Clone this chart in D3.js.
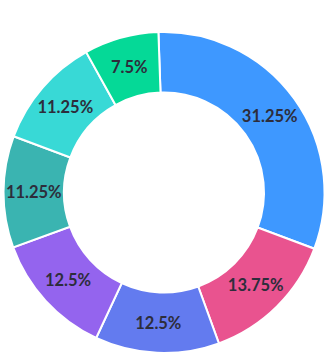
<!DOCTYPE html>
<html>
<head>
<meta charset="utf-8">
<script src="https://cdn.jsdelivr.net/npm/d3@7"></script>
<style>
  html, body { margin: 0; padding: 0; background: #ffffff; }
  svg { display: block; }
</style>
</head>
<body>
<svg id="chart" width="330" height="355"></svg>
<script>
// Share of each segment, in percent, clockwise from the top
const segments = ["A", "B", "C", "D", "E", "F", "G"];
const shares = [31.25, 13.75, 12.5, 12.5, 11.25, 11.25, 7.5];
const labels = ["31.25%", "13.75%", "12.5%", "12.5%", "11.25%", "11.25%", "7.5%"];
const colors = ["#3e98ff", "#e9538f", "#637bef", "#9464ee", "#3ab4b1", "#38d9d6", "#05d997"];

const svg = d3.select("#chart");
const cx = 164, cy = 192.5;
const outerR = 160.5, innerR = 100;

const g = svg.append("g").attr("transform", `translate(${cx},${cy})`);

const pie = d3.pie()
  .value(d => d.value)
  .sort(null)
  .startAngle(-2 * Math.PI / 180)
  .endAngle(2 * Math.PI - 2 * Math.PI / 180);

const data = segments.map((s, i) => ({ key: s, value: shares[i], label: labels[i], color: colors[i] }));
const arcs = pie(data);

const arc = d3.arc().innerRadius(innerR).outerRadius(outerR);
const labelArc = d3.arc().innerRadius(innerR + 1).outerRadius(outerR - 1);

g.selectAll("path.slice")
  .data(arcs)
  .join("path")
  .attr("class", "slice")
  .attr("d", arc)
  .attr("fill", d => d.data.color)
  .attr("stroke", "#ffffff")
  .attr("stroke-width", 2);

g.selectAll("text.value")
  .data(arcs)
  .join("text")
  .attr("class", "value")
  .attr("transform", d => `translate(${labelArc.centroid(d)})`)
  .attr("text-anchor", "middle")
  .attr("dy", "0.36em")
  .style("font-family", "Lato, 'Open Sans', sans-serif")
  .style("font-size", "16.5px")
  .style("font-weight", "700")
  .style("fill", "#2d2d3b")
  .text(d => d.data.label);
</script>
</body>
</html>
